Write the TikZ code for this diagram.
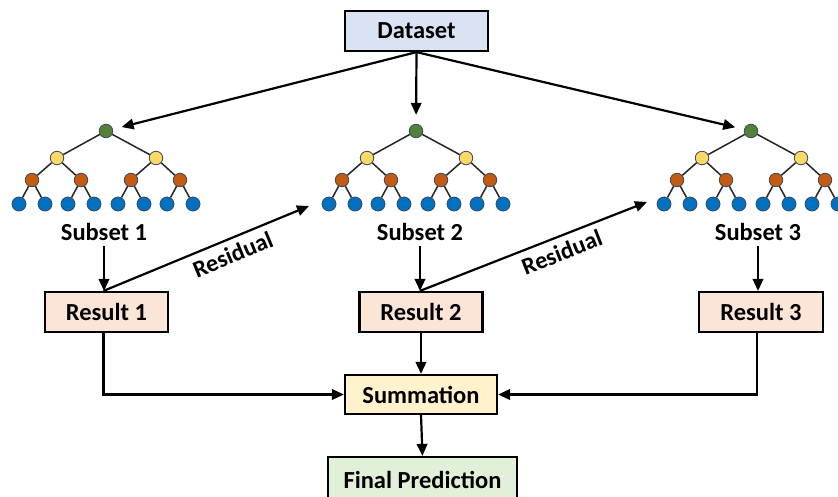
\documentclass[tikz,border=0pt]{standalone}
\usepackage{fontspec}
\setmainfont{Carlito}
\usetikzlibrary{arrows.meta}
\definecolor{dsfill}{HTML}{DAE3F3}
\definecolor{resfill}{HTML}{FBE5D6}
\definecolor{sumfill}{HTML}{FFF2CC}
\definecolor{finfill}{HTML}{E2F0D9}
\definecolor{cgreen}{HTML}{548235}
\definecolor{cyellow}{HTML}{FFD966}
\definecolor{cred}{HTML}{C55A11}
\definecolor{cblue}{HTML}{0070C0}
\definecolor{edgec}{HTML}{262626}
\definecolor{ringc}{HTML}{3A4A60}
\tikzset{
  box/.style={draw=black, line width=2.2pt, minimum height=40pt, inner sep=0pt, font=\fontsize{24.5}{28}\selectfont\bfseries},
  lbl/.style={inner sep=1pt, font=\fontsize{24.5}{28}\selectfont\bfseries},
  rlbl/.style={inner sep=1pt, font=\fontsize{24}{28}\selectfont\bfseries},
  arr/.style={line width=2.2pt, -{Triangle[length=12pt,width=10.5pt]}},
  tn/.style={circle, draw=ringc, line width=0.8pt, minimum size=14pt, inner sep=0pt},
  gnode/.style={tn, fill=cgreen, minimum size=13.5pt},
  ynode/.style={tn, fill=cyellow, minimum size=13.5pt},
  rnode/.style={tn, fill=cred, minimum size=13.5pt},
  bnode/.style={tn, fill=cblue},
  te/.style={draw=edgec, line width=1.5pt},
}
\newcommand\drawtree[2]{%
  \node[gnode] (#2r) at (#1,131) {};
  \node[ynode] (#2ya) at (#1-49,158) {};
  \node[ynode] (#2yb) at (#1+50,158) {};
  \node[rnode] (#2ra) at (#1-74,180) {};
  \node[rnode] (#2rb) at (#1-25,180) {};
  \node[rnode] (#2rc) at (#1+25,180) {};
  \node[rnode] (#2rd) at (#1+74,180) {};
  \node[bnode] (#2b1) at (#1-87,204) {};
  \node[bnode] (#2b2) at (#1-61,204) {};
  \node[bnode] (#2b3) at (#1-38,204) {};
  \node[bnode] (#2b4) at (#1-12,204) {};
  \node[bnode] (#2b5) at (#1+12,204) {};
  \node[bnode] (#2b6) at (#1+38,204) {};
  \node[bnode] (#2b7) at (#1+61,204) {};
  \node[bnode] (#2b8) at (#1+87,204) {};
  \draw[te] (#2r) -- (#2ya); \draw[te] (#2r) -- (#2yb);
  \draw[te] (#2ya) -- (#2ra); \draw[te] (#2ya) -- (#2rb);
  \draw[te] (#2yb) -- (#2rc); \draw[te] (#2yb) -- (#2rd);
  \draw[te] (#2ra) -- (#2b1); \draw[te] (#2ra) -- (#2b2);
  \draw[te] (#2rb) -- (#2b3); \draw[te] (#2rb) -- (#2b4);
  \draw[te] (#2rc) -- (#2b5); \draw[te] (#2rc) -- (#2b6);
  \draw[te] (#2rd) -- (#2b7); \draw[te] (#2rd) -- (#2b8);
}
\begin{document}
\begin{tikzpicture}[x=1pt,y=-1pt]
\useasboundingbox (0,0) rectangle (838,496);
\clip (0,0) rectangle (838,496);
\fill[white] (0,0) rectangle (838,496);
% boxes
\node[box, fill=dsfill, minimum width=143pt] (ds) at (416.5,31) {Dataset};
\node[box, fill=resfill, minimum width=123pt] (res1) at (106.5,312) {Result 1};
\node[box, fill=resfill, minimum width=123pt] (res2) at (421,312) {Result 2};
\node[box, fill=resfill, minimum width=124pt] (res3) at (761,312) {Result 3};
\node[box, fill=sumfill, minimum width=152pt, minimum height=39pt] (sum) at (421,394.5) {Summation};
\node[box, fill=finfill, minimum width=189pt, minimum height=46pt] (fin) at (422.5,480) {Final Prediction};
% trees
\drawtree{106}{ta}
\drawtree{416}{tb}
\drawtree{751}{tc}
% subset labels
\node[lbl] (sub1) at (104,232) {Subset 1};
\node[lbl] (sub2) at (420,232) {Subset 2};
\node[lbl] (sub3) at (758,232) {Subset 3};
% arrows from dataset
\draw[arr, shorten >=9pt] (ds.south) -- (tar);
\draw[arr, shorten >=9pt] (ds.south) -- (tbr);
\draw[arr, shorten >=9pt] (ds.south) -- (tcr);
% subset to result
\draw[arr, shorten <=4pt] (sub1.south) -- (sub1.south |- res1.north);
\draw[arr, shorten <=4pt] (sub2.south) -- (sub2.south |- res2.north);
\draw[arr, shorten <=4pt] (sub3.south) -- (sub3.south |- res3.north);
% residual arrows
\coordinate (r1end) at (309,206);
\coordinate (r2end) at (647,202);
\draw[arr] ([xshift=-3pt]res1.north) -- (r1end) node[rlbl, pos=0.6, sloped, below=5pt] {Residual};
\draw[arr] ([xshift=-1pt]res2.north) -- (r2end) node[rlbl, pos=0.6, sloped, below=5pt] {Residual};
% to summation
\draw[arr] ([xshift=-3pt]res1.south) |- (sum.west);
\draw[arr] ([xshift=-4pt]res3.south) |- (sum.east);
\draw[arr] (res2.south) -- (sum.north);
\draw[arr] (sum.south) -- (fin.north);
\end{tikzpicture}
\end{document}
